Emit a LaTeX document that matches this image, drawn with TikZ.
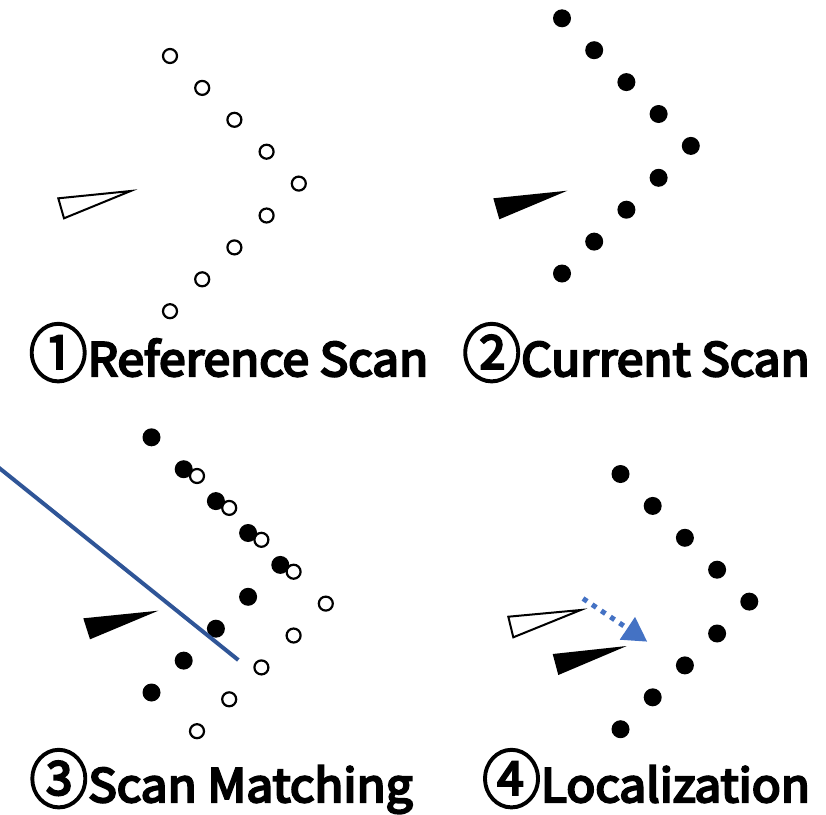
\documentclass[tikz,border=0pt]{standalone}
\usepackage{fontspec}
\setmainfont{Noto Sans CJK JP}[FakeStretch=1.04,
    BoldFont={Noto Sans CJK JP}, BoldFeatures={FakeBold=5}]
\newfontfamily\circfont{Noto Sans CJK JP}[FakeStretch=0.92,
    BoldFont={Noto Sans CJK JP}, BoldFeatures={FakeBold=3}]
\usepackage{tikz}
\usetikzlibrary{arrows.meta, calc}
\definecolor{matchblue}{HTML}{2F5597}
\definecolor{moveblue}{HTML}{4472C4}
\newcommand{\stepno}[1]{\raisebox{-0.02em}{\circfont\fontsize{64}{64}\selectfont #1}}

\tikzset{
    refpt/.style={draw=black, line width=2.2pt, fill=white},
    curpt/.style={fill=black},
    oldpose/.style={draw=black, line width=2pt, fill=white, line join=miter},
    newpose/.style={fill=black},
    caption/.style={font=\fontsize{46}{50}\selectfont\bfseries, inner sep=0pt, anchor=base}
}

\begin{document}
\begin{tikzpicture}[x=1pt, y=-1pt]
    \useasboundingbox (0,0) rectangle (826,814);

    % 1: reference scan
    \foreach \i in {0,...,8}
        \draw[refpt] ({170+32.2*(4-abs(\i-4))}, {56+31.9*\i}) circle (7);
    \draw[oldpose] (58.3,198.3) -- (130.7,191) -- (64,218.3) -- cycle;
    \node[caption] (cap1) at (228.5,376) {\stepno{①}Reference Scan};

    % 2: current scan
    \foreach \i in {0,...,8}
        \fill[curpt] ({562+32.2*(4-abs(\i-4))}, {18.3+31.9*\i}) circle (9);
    \fill[newpose] (493.3,198.3) -- (567.3,190.7) -- (499.3,219.3) -- cycle;
    \node[caption] (cap2) at (636,376) {\stepno{②}Current Scan};

    % 3: scan matching
    \foreach \i in {0,...,8}
        \fill[curpt] ({151.5+32.2*(4-abs(\i-4))}, {437.3+31.9*\i}) circle (9);
    \foreach \i in {0,...,8}
        \draw[refpt] ({197+32.2*(4-abs(\i-4))}, {476+31.9*\i}) circle (7);
    \fill[newpose] (83.3,618.3) -- (158.3,610.7) -- (90,639.3) -- cycle;
    \coordinate (l0) at (-2,467);
    \coordinate (l1) at (238.3,660);
    \draw[matchblue, line width=4pt] (l0) -- (l1);
    \node[caption] (cap3) at (221,802) {\stepno{③}Scan Matching};

    % 4: localization
    \foreach \i in {0,...,8}
        \fill[curpt] ({620.5+32.2*(4-abs(\i-4))}, {474+31.9*\i}) circle (9);
    \draw[oldpose] (508.3,616.7) -- (580.7,610) -- (513.3,637.3) -- cycle;
    \fill[newpose] (552.7,654) -- (626.7,646) -- (558.3,675) -- cycle;
    \coordinate (m0) at (583,598.5);
    \coordinate (m1) at (647.3,641.7);
    \draw[moveblue, line width=5pt, dash pattern=on 5pt off 6pt,
          -{Triangle[length=24pt, width=26pt]}] (m0) -- (m1);
    \node[caption] (cap4) at (646,802) {\stepno{④}Localization};
\end{tikzpicture}
\end{document}
